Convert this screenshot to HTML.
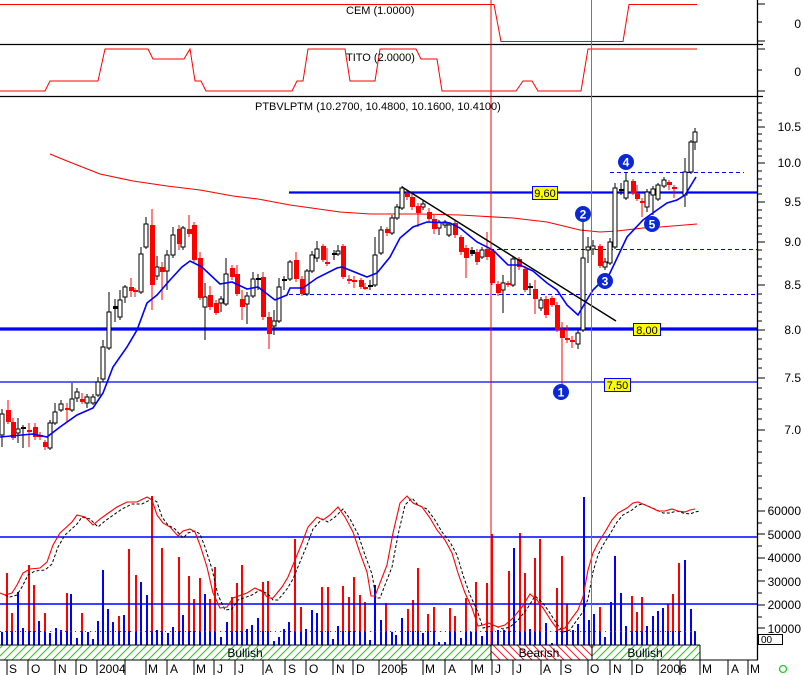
<!DOCTYPE html>
<html><head><meta charset="utf-8"><style>
html,body{margin:0;padding:0;background:#fff;}
svg{display:block;font-family:"Liberation Sans",Arial,sans-serif;}
</style></head><body>
<svg width="804" height="675" viewBox="0 0 804 675" xmlns="http://www.w3.org/2000/svg">
<defs>
<pattern id="gh" width="8" height="8" patternUnits="userSpaceOnUse"><path d="M-1 9L9 -1M-3 3L3 -3M5 11L11 5" stroke="#22cc22" stroke-width="1"/></pattern>
<pattern id="rh" width="8" height="8" patternUnits="userSpaceOnUse"><path d="M-1 -1L9 9M-3 5L3 11M5 -3L11 3" stroke="#ee2222" stroke-width="1"/></pattern>
<path id="st" d="M0 593 L5 595 L12 593 L17 585 L23 573 L30 569 L40 568 L47 562 L53 545 L60 533 L72 522 L77 515 L85 517 L93 525 L100 519 L107 514 L117 507 L127 502 L137 502 L147 497 L152 500 L157 515 L163 523 L170 527 L178 536 L183 531 L190 529 L195 532 L200 545 L207 567 L213 593 L220 608 L227 607 L233 598 L247 593 L255 588 L263 592 L268 598 L273 598 L282 587 L288 577 L295 560 L302 543 L308 527 L317 517 L323 520 L330 515 L338 507 L345 517 L353 532 L360 553 L367 572 L371 596 L375 596 L380 583 L387 565 L393 533 L400 503 L407 496 L413 503 L422 507 L430 518 L437 530 L445 540 L452 553 L458 573 L465 593 L472 608 L478 626 L483 625 L488 623 L498 627 L505 625 L513 618 L522 607 L530 594 L537 600 L543 608 L552 622 L558 630 L565 628 L572 618 L578 610 L583 597 L588 570 L593 553 L598 543 L605 532 L612 520 L618 513 L627 508 L633 503 L638 502 L645 505 L652 508 L658 511 L665 511 L672 509 L678 511 L685 512 L690 510 L695 509"/>
</defs>
<rect width="804" height="675" fill="#fff"/>

<!-- top panels -->
<path d="M0 4.5 H494 L501 41.5 H623 L629 4.5 H697" fill="none" stroke="#f00" stroke-width="1"/>
<text x="346" y="14" font-size="11" fill="#000">CEM (1.0000)</text>
<line x1="0" y1="44.5" x2="763" y2="44.5" stroke="#000" stroke-width="1.3"/>
<path d="M0 91 H45 L50 81 H98 L105 49 H148 L153 59 H184 L190 49 L195 81 H201 L206 91 H292 L297 81 H303 L308 49 H345 L350 81 H375 L380 49 H416 L421 59 H437 L442 91 H516 L523 81 H532 L538 91 H581 L588 49 H697" fill="none" stroke="#f00" stroke-width="1"/>
<text x="346" y="61" font-size="11" fill="#000">TITO (2.0000)</text>
<line x1="0" y1="96.5" x2="763" y2="96.5" stroke="#000" stroke-width="1.3"/>
<text x="255" y="110" font-size="11" fill="#000">PTBVLPTM (10.2700, 10.4800, 10.1600, 10.4100)</text>

<!-- horizontal levels -->
<line x1="289" y1="192.5" x2="757" y2="192.5" stroke="#0000ff" stroke-width="2.2"/>
<line x1="0" y1="329" x2="757" y2="329" stroke="#0000ff" stroke-width="3.2"/>
<line x1="0" y1="382" x2="757" y2="382" stroke="#0000ff" stroke-width="1.2"/>
<g stroke="#0000ff" stroke-width="1" stroke-dasharray="4,3" shape-rendering="crispEdges">
<line x1="610" y1="172.5" x2="744" y2="172.5"/>
<line x1="490" y1="249.5" x2="757" y2="249.5"/>
<line x1="289" y1="294.5" x2="757" y2="294.5"/>
</g>

<!-- long MA -->
<path d="M50 154 L67 161 L100 174 L133 181 L167 186 L200 190 L233 196 L258 199 L290 205 L340 212 L370 214 L390 214 L420 214 L460 215 L513 218 L547 222 L580 230 L600 232 L617 231 L643 228 L660 227 L697 224" fill="none" stroke="#f00" stroke-width="1.1"/>

<!-- wicks -->
<path shape-rendering="crispEdges" stroke="#000" stroke-width="1" fill="none" d="M2 409V447M18 418V443M23 425V448M50 420V450M55 403V425M61 400V412M72 383V412M77 388V402M87 394V408M93 394V405M98 377V397M103 340V382M109 292V350M115 299V322M120 290V320M125 285V303M141 247V294M146 217V249M157 256V280M167 250V290M173 227V258M183 226V250M205 283V340M221 296V312M226 258V306M247 292V324M253 272V298M258 274V290M274 310V335M279 278V323M284 276V290M290 260V281M307 269V296M312 251V273M317 241V262M334 250V260M338 245V256M370 280V290M375 237V287M381 226V255M392 215V235M397 204V220M402 186V210M423 200V210M439 220V235M445 220V228M449 222V237M472 247V256M482 247V259M503 275V313M513 256V287M530 283V295M541 297V311M578 330V349M583 217V332M588 237V263M593 240V255M605 258V270M610 238V265M615 183V249M621 183V195M626 172V200M647 189V212M653 186V215M658 183V201M664 177V188M685 158V207M691 140V174M695 128V150"/>
<path shape-rendering="crispEdges" stroke="#f00" stroke-width="1" fill="none" d="M8 400V424M13 418V440M29 423V447M35 423V440M40 432V440M45 440V450M67 403V422M82 393V404M131 278V297M135 288V297M152 209V310M162 262V300M179 225V250M189 215V237M194 222V262M200 252V300M210 286V310M216 300V315M232 265V280M237 265V296M242 290V320M263 272V320M269 312V349M296 252V282M302 276V296M323 244V262M327 248V266M343 244V279M349 275V284M354 276V288M361 278V289M365 283V290M387 227V236M407 190V200M412 194V210M418 203V227M429 208V222M434 215V234M455 220V238M461 235V255M466 245V278M477 249V265M487 232V260M492 249V285M498 281V296M508 281V287M519 257V270M525 266V292M535 280V314M546 296V318M552 296V307M557 302V332M562 322V392M567 325V343M572 336V348M600 244V268M633 179V195M637 185V201M642 198V217M669 180V190M674 185V198"/>

<!-- white bodies -->
<g fill="#fff" stroke="#000" stroke-width="1" shape-rendering="crispEdges">
<rect x="0" y="414" width="4" height="21"/><rect x="16" y="429" width="4" height="4"/><rect x="48" y="423" width="4" height="25"/><rect x="53" y="412" width="4" height="11"/><rect x="59" y="404" width="4" height="6"/><rect x="70" y="399" width="4" height="11"/><rect x="75" y="392" width="4" height="6"/><rect x="85" y="397" width="4" height="6"/><rect x="91" y="397" width="4" height="6"/><rect x="96" y="382" width="4" height="13"/><rect x="101" y="347" width="4" height="32"/><rect x="107" y="312" width="4" height="36"/><rect x="118" y="300" width="4" height="17"/><rect x="123" y="287" width="4" height="10"/><rect x="139" y="254" width="4" height="38"/><rect x="144" y="224" width="4" height="23"/><rect x="155" y="267" width="4" height="9"/><rect x="165" y="255" width="4" height="16"/><rect x="171" y="235" width="4" height="20"/><rect x="181" y="228" width="4" height="19"/><rect x="203" y="297" width="4" height="10"/><rect x="219" y="299" width="4" height="4"/><rect x="224" y="274" width="4" height="30"/><rect x="245" y="296" width="4" height="8"/><rect x="251" y="279" width="4" height="17"/><rect x="272" y="321" width="4" height="5"/><rect x="277" y="287" width="4" height="34"/><rect x="288" y="262" width="4" height="17"/><rect x="305" y="271" width="4" height="23"/><rect x="310" y="255" width="4" height="16"/><rect x="315" y="249" width="4" height="9"/><rect x="336" y="251" width="4" height="3"/><rect x="373" y="255" width="4" height="30"/><rect x="379" y="230" width="4" height="23"/><rect x="390" y="218" width="4" height="15"/><rect x="395" y="207" width="4" height="11"/><rect x="400" y="188" width="4" height="20"/><rect x="421" y="204" width="4" height="3"/><rect x="437" y="222" width="4" height="6"/><rect x="443" y="222" width="4" height="3"/><rect x="447" y="225" width="4" height="10"/><rect x="480" y="250" width="4" height="7"/><rect x="501" y="283" width="4" height="7"/><rect x="511" y="259" width="4" height="26"/><rect x="539" y="300" width="4" height="8"/><rect x="576" y="333" width="4" height="11"/><rect x="581" y="258" width="4" height="72"/><rect x="586" y="247" width="4" height="3"/><rect x="591" y="246" width="4" height="3"/><rect x="603" y="262" width="4" height="5"/><rect x="608" y="242" width="4" height="21"/><rect x="613" y="188" width="4" height="59"/><rect x="624" y="181" width="4" height="17"/><rect x="645" y="192" width="4" height="15"/><rect x="651" y="189" width="4" height="6"/><rect x="656" y="185" width="4" height="14"/><rect x="662" y="180" width="4" height="6"/><rect x="683" y="172" width="4" height="23"/><rect x="689" y="142" width="4" height="30"/><rect x="693" y="132" width="4" height="10"/>
</g>
<!-- red bodies -->
<g fill="#f00" shape-rendering="crispEdges">
<rect x="6" y="410" width="5" height="12"/><rect x="11" y="422" width="5" height="16"/><rect x="27" y="430" width="5" height="2"/><rect x="33" y="427" width="5" height="10"/><rect x="38" y="435" width="5" height="2"/><rect x="43" y="442" width="5" height="5"/><rect x="65" y="408" width="5" height="2"/><rect x="80" y="399" width="5" height="3"/><rect x="129" y="287" width="5" height="4"/><rect x="133" y="290" width="5" height="2"/><rect x="150" y="225" width="5" height="60"/><rect x="160" y="267" width="5" height="5"/><rect x="177" y="229" width="5" height="15"/><rect x="187" y="229" width="5" height="5"/><rect x="192" y="225" width="5" height="35"/><rect x="198" y="258" width="5" height="40"/><rect x="208" y="295" width="5" height="12"/><rect x="214" y="303" width="5" height="10"/><rect x="230" y="268" width="5" height="9"/><rect x="235" y="274" width="5" height="20"/><rect x="240" y="299" width="5" height="8"/><rect x="261" y="277" width="5" height="40"/><rect x="267" y="317" width="5" height="17"/><rect x="294" y="260" width="5" height="19"/><rect x="300" y="279" width="5" height="15"/><rect x="321" y="246" width="5" height="14"/><rect x="325" y="262" width="5" height="2"/><rect x="341" y="246" width="5" height="31"/><rect x="347" y="279" width="5" height="2"/><rect x="352" y="280" width="5" height="2"/><rect x="359" y="280" width="5" height="7"/><rect x="363" y="287" width="5" height="2"/><rect x="385" y="229" width="5" height="4"/><rect x="405" y="193" width="5" height="4"/><rect x="410" y="197" width="5" height="10"/><rect x="416" y="206" width="5" height="7"/><rect x="427" y="212" width="5" height="7"/><rect x="432" y="219" width="5" height="10"/><rect x="453" y="223" width="5" height="12"/><rect x="459" y="237" width="5" height="15"/><rect x="464" y="248" width="5" height="10"/><rect x="475" y="252" width="5" height="10"/><rect x="485" y="249" width="5" height="8"/><rect x="490" y="251" width="5" height="32"/><rect x="496" y="284" width="5" height="9"/><rect x="506" y="283" width="5" height="2"/><rect x="517" y="259" width="5" height="8"/><rect x="523" y="269" width="5" height="21"/><rect x="533" y="289" width="5" height="10"/><rect x="544" y="299" width="5" height="16"/><rect x="550" y="298" width="5" height="7"/><rect x="555" y="305" width="5" height="25"/><rect x="560" y="330" width="5" height="8"/><rect x="565" y="338" width="5" height="2"/><rect x="570" y="340" width="5" height="2"/><rect x="598" y="246" width="5" height="20"/><rect x="631" y="181" width="5" height="12"/><rect x="635" y="193" width="5" height="6"/><rect x="640" y="201" width="5" height="2"/><rect x="667" y="182" width="5" height="3"/><rect x="672" y="187" width="5" height="2"/>
</g>
<!-- dark dojis -->
<g fill="#000" shape-rendering="crispEdges">
<rect x="21" y="427" width="5" height="2"/><rect x="113" y="306" width="5" height="3"/><rect x="256" y="278" width="5" height="2"/><rect x="282" y="279" width="5" height="2"/><rect x="332" y="253" width="5" height="2"/><rect x="368" y="285" width="5" height="2"/><rect x="470" y="250" width="5" height="4"/><rect x="528" y="286" width="5" height="2"/><rect x="619" y="189" width="5" height="2"/>
</g>

<!-- short MA blue -->
<path d="M0 437 L33 434 L47 437 L60 427 L77 415 L93 408 L103 393 L113 367 L127 347 L137 330 L147 303 L157 295 L170 280 L182 267 L190 261 L200 266 L203 268 L220 284 L232 282 L247 289 L258 287 L275 300 L287 295 L290 288 L303 288 L317 278 L337 268 L342 267 L367 277 L377 273 L390 257 L400 238 L413 227 L427 222 L450 223 L460 228 L477 242 L493 250 L508 265 L520 265 L533 271 L547 283 L557 290 L567 305 L578 315 L585 303 L593 290 L600 283 L605 282 L610 273 L627 237 L643 220 L657 210 L667 203 L677 200 L685 195 L696 177" fill="none" stroke="#0000ff" stroke-width="1.6"/>

<!-- trendline -->
<line x1="402" y1="187" x2="616" y2="321" stroke="#000" stroke-width="1.4"/>

<!-- price label boxes -->
<g font-size="11" text-anchor="middle" fill="#000">
<rect x="532.5" y="186.5" width="25" height="13" fill="#ffff00" stroke="#0000ff"/><text x="545" y="197">9,60</text>
<rect x="633.5" y="323.5" width="27" height="12" fill="#ffff00" stroke="#0000ff"/><text x="647" y="334">8,00</text>
<rect x="604.5" y="378.5" width="26" height="13" fill="#ffff00" stroke="#0000ff"/><text x="617.5" y="389">7,50</text>
</g>

<!-- numbered circles -->
<g fill="#0a28d6"><circle cx="561" cy="392" r="8"/><circle cx="583" cy="214" r="8"/><circle cx="605" cy="281" r="8"/><circle cx="626" cy="162" r="8"/><circle cx="652" cy="224" r="8"/></g>
<g fill="#fff" font-size="12" font-weight="bold" text-anchor="middle">
<text x="561" y="396.5">1</text><text x="583" y="218.5">2</text><text x="605" y="285.5">3</text><text x="626" y="166.5">4</text><text x="652" y="228.5">5</text>
</g>

<!-- volume bars -->
<path shape-rendering="crispEdges" stroke="#0000ff" stroke-width="2" fill="none" d="M2 632V645M18 592V645M23 628V645M39 621V645M50 633V645M56 628V645M61 630V645M71 594V645M77 638V645M88 632V645M93 639V645M98 621V645M103 570V645M108 609V645M113 622V645M124 615V645M141 582V645M147 595V645M157 630V645M168 633V645M173 627V645M183 615V645M205 594V645M221 637V645M227 622V645M247 629V645M252 625V645M258 618V645M274 641V645M279 637V645M284 629V645M289 622V645M306 629V645M312 610V645M317 613V645M333 639V645M338 626V645M370 640V645M375 585V645M381 620V645M392 632V645M396 635V645M402 618V645M423 633V645M439 642V645M445 642V645M461 638V645M471 632V645M482 636V645M498 630V645M504 630V645M514 548V645M530 629V645M546 623V645M552 643V645M573 630V645M578 624V645M584 497V645M589 620V645M594 614V645M605 637V645M611 602V645M615 556V645M621 593V645M626 626V645M647 626V645M653 616V645M658 611V645M663 608V645M685 560V645M691 609V645M7 631V645M12 631V645M29 631V645M34 631V645M45 631V645M67 631V645M82 631V645M119 631V645M129 631V645M136 631V645M152 631V645M162 631V645M179 631V645M189 631V645M194 631V645M200 631V645M210 631V645M215 631V645M232 631V645M237 631V645M242 631V645M263 631V645M268 631V645M295 631V645M301 631V645M322 631V645M328 631V645M343 631V645M349 631V645M354 631V645M360 631V645M365 631V645M386 631V645M408 631V645M413 631V645M418 631V645M428 631V645M434 631V645M450 631V645M455 631V645M466 631V645M476 631V645M487 631V645M492 631V645M509 631V645M520 631V645M525 631V645M535 631V645M540 631V645M557 631V645M562 631V645M567 631V645M600 631V645M632 631V645M637 631V645M642 631V645M668 631V645M673 631V645M679 631V645M695 631V645"/>
<path shape-rendering="crispEdges" stroke="#f00" stroke-width="2" fill="none" d="M7 573V631M12 613V631M29 565V631M34 585V631M45 613V631M67 593V631M82 613V631M119 616V631M129 549V631M136 575V631M152 496V631M162 548V631M179 557V631M189 576V631M194 599V631M200 578V631M210 599V631M215 567V631M232 597V631M237 583V631M242 565V631M263 582V631M268 581V631M295 539V631M301 607V631M322 587V631M328 587V631M343 586V631M349 597V631M354 577V631M360 595V631M365 602V631M386 603V631M408 609V631M413 600V631M418 568V631M428 614V631M434 607V631M450 608V631M455 616V631M466 598V631M476 582V631M487 583V631M492 534V631M509 571V631M520 533V631M525 573V631M535 558V631M540 539V631M557 588V631M562 556V631M567 604V631M600 607V631M632 596V631M637 612V631M642 597V631M668 604V631M673 594V631M679 563V631"/>
<line x1="0" y1="631.5" x2="697" y2="631.5" stroke="#f00" stroke-width="1" stroke-dasharray="1,4"/>

<!-- stochastic levels -->
<line x1="0" y1="537" x2="757" y2="537" stroke="#0000ff" stroke-width="1.5"/>
<line x1="0" y1="604" x2="757" y2="604" stroke="#0000ff" stroke-width="1.5"/>
<use href="#st" transform="translate(5,2)" fill="none" stroke="#000" stroke-width="1" stroke-dasharray="3,2"/>
<use href="#st" fill="none" stroke="#f00" stroke-width="1.1"/>

<!-- vertical markers -->
<line x1="491" y1="0" x2="491" y2="645" stroke="#f00" stroke-width="1"/>
<line x1="591.5" y1="0" x2="591.5" y2="645" stroke="#00cc00" stroke-width="1"/>

<!-- signal band -->
<rect x="0" y="645" width="491" height="15" fill="url(#gh)"/>
<rect x="491" y="645" width="101" height="15" fill="url(#rh)"/>
<rect x="592" y="645" width="108" height="15" fill="url(#gh)"/>
<g stroke="#000" stroke-width="1" shape-rendering="crispEdges">
<line x1="0" y1="645" x2="700" y2="645"/>
<line x1="491" y1="645" x2="491" y2="660"/>
<line x1="592" y1="645" x2="592" y2="660"/>
<line x1="700" y1="645" x2="700" y2="660"/>
<line x1="0" y1="660" x2="758" y2="660"/>
</g>
<g font-size="12" text-anchor="middle" fill="#000">
<text x="245" y="657">Bullish</text><text x="539" y="657">Bearish</text><text x="645" y="657">Bullish</text>
</g>

<!-- month axis -->
<path shape-rendering="crispEdges" stroke="#000" stroke-width="1" d="M7 660V675M28 660V675M55 660V675M76 660V675M97 660V675M125 660V675M146 660V675M167 660V675M194 660V675M214 660V675M235 660V675M263 660V675M285 660V675M306 660V675M333 660V675M353 660V675M379 660V675M402 660V675M423 660V675M445 660V675M472 660V675M492 660V675M513 660V675M541 660V675M561 660V675M588 660V675M610 660V675M632 660V675M658 660V675M680 660V675M700 660V675M728 660V675M748 660V675"/>
<g font-size="12" fill="#000">
<text x="9" y="673">S</text><text x="31" y="673">O</text><text x="58" y="673">N</text><text x="79" y="673">D</text><text x="99" y="673">2004</text><text x="148" y="673">M</text><text x="170" y="673">A</text><text x="196" y="673">M</text><text x="217" y="673">J</text><text x="238" y="673">J</text><text x="265" y="673">A</text><text x="288" y="673">S</text><text x="309" y="673">O</text><text x="336" y="673">N</text><text x="356" y="673">D</text><text x="381" y="673">2005</text><text x="425" y="673">M</text><text x="448" y="673">A</text><text x="474" y="673">M</text><text x="495" y="673">J</text><text x="516" y="673">J</text><text x="543" y="673">A</text><text x="564" y="673">S</text><text x="590" y="673">O</text><text x="613" y="673">N</text><text x="635" y="673">D</text><text x="660" y="673">2006</text><text x="702" y="673">M</text><text x="731" y="673">A</text><text x="750" y="673">M</text>
</g>
<circle cx="783" cy="669" r="3.5" fill="none" stroke="#22cc22" stroke-width="1.3"/>

<!-- right axis -->
<line x1="757.5" y1="0" x2="757.5" y2="660" stroke="#000" stroke-width="1.3"/>
<path shape-rendering="crispEdges" stroke="#000" stroke-width="1" d="M757 4H765M757 22H762M757 41H765M757 49H765M757 70H762M757 91H765M757 103H762M757 113H762M757 120H762M757 127H765M757 134H762M757 141H762M757 149H762M757 156H762M757 163H765M757 171H762M757 179H762M757 186H762M757 194H762M757 202H765M757 210H762M757 218H762M757 226H762M757 234H762M757 242H765M757 250H762M757 259H762M757 267H762M757 276H762M757 285H765M757 294H762M757 303H762M757 312H762M757 321H762M757 330H765M757 339H762M757 349H762M757 359H762M757 368H762M757 378H765M757 388H762M757 399H762M757 409H762M757 419H762M757 430H765M757 441H762M757 452H762M757 463H762M757 476H762M757 488H762M757 499H762M757 511H765M757 523H762M757 534H765M757 546H762M757 558H765M757 570H762M757 581H765M757 593H762M757 605H765M757 617H762M757 628H765M757 640H762"/>
<g font-size="12" fill="#000" text-anchor="end">
<text x="801" y="28">0</text><text x="801" y="76">0</text>
<text x="801" y="131">10.5</text><text x="801" y="167">10.0</text><text x="801" y="206">9.5</text><text x="801" y="246">9.0</text><text x="801" y="289">8.5</text><text x="801" y="334">8.0</text><text x="801" y="382">7.5</text><text x="801" y="434">7.0</text>
<text x="801" y="515">60000</text><text x="801" y="539">50000</text><text x="801" y="562">40000</text><text x="801" y="586">30000</text><text x="801" y="609">20000</text><text x="801" y="633">10000</text>
</g>
<rect x="758.5" y="634.5" width="24" height="10" fill="#fff" stroke="#000" stroke-width="1"/>
<text x="761" y="643" font-size="10" fill="#000">00</text>
</svg>
</body></html>
